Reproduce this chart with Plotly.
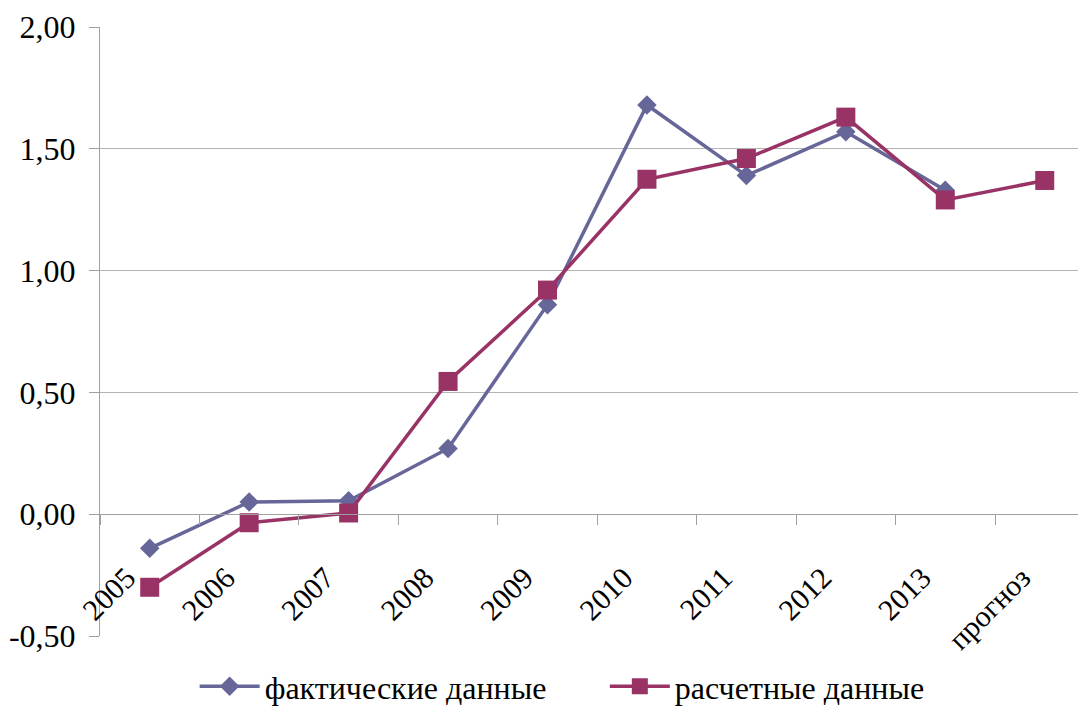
import plotly.graph_objects as go

categories = ["2005", "2006", "2007", "2008", "2009", "2010", "2011", "2012", "2013", "прогноз"]
actual = [-0.14, 0.05, 0.055, 0.27, 0.86, 1.68, 1.39, 1.57, 1.33, None]
calculated = [-0.30, -0.035, 0.005, 0.545, 0.92, 1.375, 1.46, 1.63, 1.29, 1.37]
y_tickvals = [-0.5, 0.0, 0.5, 1.0, 1.5, 2.0]
y_ticktext = ["-0,50", "0,00", "0,50", "1,00", "1,50", "2,00"]

FONT = "Liberation Serif"
BLUE = "#666699"
RED = "#993366"
GRID = "#b3b3b3"
AXIS = "#a0a0a0"

fig = go.Figure()
fig.add_trace(go.Scatter(
    x=categories, y=actual, name="фактические данные", mode="lines+markers",
    line=dict(color=BLUE, width=3.5),
    marker=dict(symbol="diamond", size=15, color=BLUE),
    legend="legend",
))
fig.add_trace(go.Scatter(
    x=categories, y=calculated, name="расчетные данные", mode="lines+markers",
    line=dict(color=RED, width=3.5),
    marker=dict(symbol="square", size=19, color=RED),
    legend="legend2",
))

legend_common = dict(orientation="h", yanchor="middle", y=-0.083, xanchor="left",
                     font=dict(family=FONT, size=32, color="black"), itemwidth=60,
                     bgcolor="rgba(0,0,0,0)")

# page body has an 8px margin, so the figure is offset by 8px in x and y
fig.update_layout(
    width=1078, height=698,
    margin=dict(l=92, r=0, t=19, b=70, autoexpand=False),
    paper_bgcolor="white", plot_bgcolor="white",
    font=dict(family=FONT, size=30, color="black"),
    showlegend=True,
    legend=dict(legend_common, x=0.096),
    legend2=dict(legend_common, x=0.512),
    xaxis=dict(
        type="category",
        range=[-0.5, 9.415], anchor="free", position=0.2,
        showline=True, linecolor=AXIS, linewidth=1,
        ticks="outside", ticklen=10, tickcolor=AXIS, tickwidth=1,
        tickson="boundaries",
        showgrid=False, zeroline=False, tickangle=-45,
        tickfont=dict(family=FONT, size=30, color="black"),
        ticklabelstandoff=33, ticklabelshift=-23,
        automargin=False,
    ),
    yaxis=dict(
        range=[-0.5, 2.0], tickmode="array", tickvals=y_tickvals, ticktext=y_ticktext,
        showgrid=True, gridcolor=GRID, gridwidth=1, zeroline=False,
        showline=True, linecolor=AXIS, linewidth=1,
        ticks="outside", ticklen=10, tickcolor=AXIS,
        tickfont=dict(family=FONT, size=32, color="black"),
        ticklabelstandoff=7,
        automargin=False,
    ),
)

fig.write_html("out.html")
